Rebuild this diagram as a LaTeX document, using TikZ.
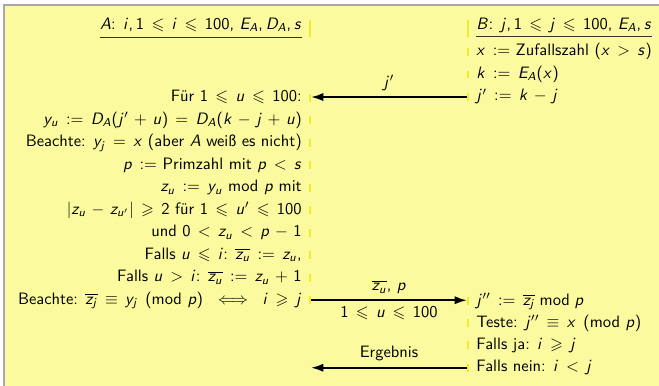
\documentclass[tikz,border=0pt]{standalone}
\usepackage{amsmath}
\usepackage{amssymb}
\DeclareSymbolFont{cmmletters}{OML}{cmm}{m}{it}
\DeclareSymbolFont{letters}{OT1}{cmss}{m}{sl}
\DeclareSymbolFont{operators}{OT1}{cmss}{m}{n}
\DeclareMathSymbol{<}{\mathrel}{cmmletters}{"3C}
\DeclareMathSymbol{>}{\mathrel}{cmmletters}{"3E}
\DeclareMathSymbol{,}{\mathpunct}{operators}{"2C}
\DeclareMathSymbol{.}{\mathord}{operators}{"2E}
\thickmuskip=8mu plus 5mu
\medmuskip=6mu plus 2mu minus 4mu
\usetikzlibrary{arrows.meta,calc}
\definecolor{bgyellow}{RGB}{251,250,158}
\definecolor{baryellow}{RGB}{240,236,40}
\definecolor{framegrey}{RGB}{168,168,168}
\begin{document}
\begin{tikzpicture}[x=0.606pt,y=-0.606pt,
  every node/.style={font=\sffamily, inner sep=0pt},
  ltext/.style={anchor=base east},
  rtext/.style={anchor=base west},
  tickbar/.style={fill=baryellow, draw=none, minimum width=1.2pt, minimum height=4.8pt, inner sep=0pt, outer sep=0pt, anchor=south},
  hbar/.style={tickbar, minimum height=10pt},
  msg/.style={line width=1.2pt, -{Latex[length=7.5pt,width=5pt]}},
  lbl/.style={inner sep=3.3pt}
]
\useasboundingbox (0,0) rectangle (659,386);
\fill[white] (0,0) rectangle (659,386);
\fill[framegrey] (3,4) rectangle (659,386);
\fill[bgyellow] (5,6) rectangle (659,386);

% left column
\node[ltext] (L0) at (302,29.3) {$A$: $i, 1 \leqslant i \leqslant 100$, $E_A, D_A, s$};
\node[ltext] (L1) at (302,101.7) {Für $1 \leqslant u \leqslant 100$:};
\node[ltext] (L2) at (302,124.2) {$y_u := D_A(j'+u) = D_A(k-j+u)$};
\node[ltext] (L3) at (302,146.7) {Beachte: $y_j = x$ (aber $A$ weiß es nicht)};
\node[ltext] (L4) at (302,169.2) {$p :=$ Primzahl mit $p < s$};
\node[ltext] (L5) at (302,191.7) {$z_u := y_u$ mod $p$ mit};
\node[ltext] (L6) at (302,214.2) {$|z_u - z_{u'}| \geqslant 2$ für $1 \leqslant u' \leqslant 100$};
\node[ltext] (L7) at (302,236.7) {und $0 < z_u < p-1$};
\node[ltext] (L8) at (302,259.2) {Falls $u \leqslant i$: $\overline{z_u} := z_u$,};
\node[ltext] (L9) at (302,281.7) {Falls $u > i$: $\overline{z_u} := z_u + 1$};
\node[ltext] (L10) at (302,304.2) {Beachte: $\overline{z_j} \equiv y_j \pmod{p} \iff i \geqslant j$};

% right column
\node[rtext] (R0) at (476,29.3) {$B$: $j, 1 \leqslant j \leqslant 100$, $E_A, s$};
\node[rtext] (R1) at (476,56) {$x :=$ Zufallszahl $(x > s)$};
\node[rtext] (R2) at (476,78.5) {$k := E_A(x)$};
\node[rtext] (R3) at (476,101) {$j' := k - j$};
\node[rtext] (R4) at (476,305) {$j'' := \overline{z_j} \bmod p$};
\node[rtext] (R5) at (476,327) {Teste: $j'' \equiv x \pmod{p}$};
\node[rtext] (R6) at (476,349.3) {Falls ja: $i \geqslant j$};
\node[rtext] (R7) at (476,371.7) {Falls nein: $i < j$};

% underlines
\draw[line width=0.6pt, black!80] ($(L0.base west)+(0,8)$) -- ($(L0.base east)+(0,8)$);
\draw[line width=0.6pt, black!80] ($(R0.base west)+(0,7.5)$) -- ($(R0.base east)+(0,7.5)$);

% tick bars
\node[hbar] (lb0) at (310,36.7) {};
\node[tickbar] (lb1) at (310,101.7) {};
\node[tickbar] (lb2) at (310,124.2) {};
\node[tickbar] (lb3) at (310,146.7) {};
\node[tickbar] (lb4) at (310,169.2) {};
\node[tickbar] (lb5) at (310,191.7) {};
\node[tickbar] (lb6) at (310,214.2) {};
\node[tickbar] (lb7) at (310,236.7) {};
\node[tickbar] (lb8) at (310,259.2) {};
\node[tickbar] (lb9) at (310,281.7) {};
\node[tickbar] (lb10) at (310,304.2) {};
\node[hbar] (rb0) at (468,36.7) {};
\node[tickbar] (rb1) at (468,56) {};
\node[tickbar] (rb2) at (468,78.5) {};
\node[tickbar] (rb3) at (468,101) {};
\node[tickbar] (rb4) at (468,305) {};
\node[tickbar] (rb5) at (468,327) {};
\node[tickbar] (rb6) at (468,349.3) {};
\node[tickbar] (rb7) at (468,371.7) {};

% messages
\coordinate (E) at (311,368);
\draw[msg] (rb3.west) -- (rb3.west -| lb1.east) node[lbl, midway, above] {$j'$};
\draw[msg] (lb10.east) -- (lb10.east -| rb4.west)
  node[lbl, midway, above] {$\overline{z_u}$, $p$}
  node[lbl, midway, below] {$1 \leqslant u \leqslant 100$};
\draw[msg] (rb7.west) -- (rb7.west -| E) node[lbl, midway, above] {Ergebnis};
\end{tikzpicture}
\end{document}
